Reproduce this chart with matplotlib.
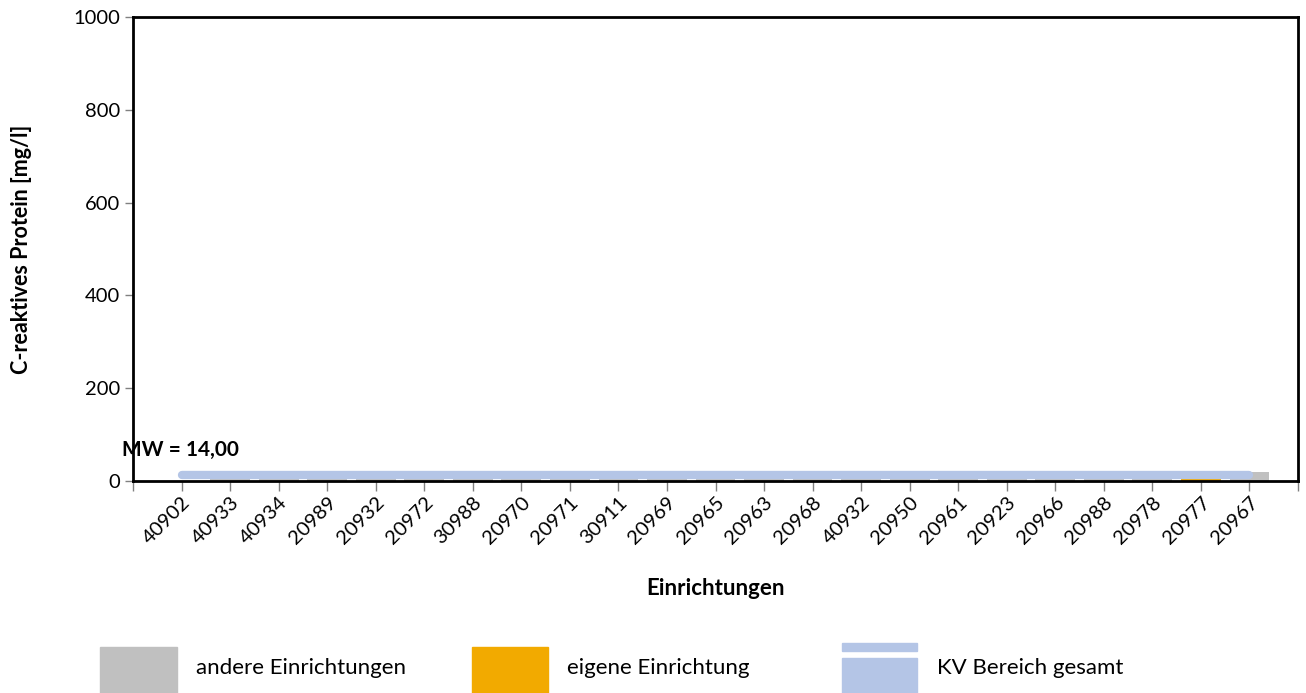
import numpy as np
import matplotlib
matplotlib.use("Agg")
import matplotlib.pyplot as plt
from matplotlib.patches import Rectangle

plt.rcParams['font.family'] = ['Lato', 'DejaVu Sans']

# data
einrichtungen = ["40902", "40933", "40934", "20989", "20932", "20972", "30988", "20970",
                 "20971", "30911", "20969", "20965", "20963", "20968", "40932", "20950",
                 "20961", "20923", "20966", "20988", "20978", "20977", "20967"]
werte = [0, 10, 11, 11, 12, 12, 12, 13, 13, 13, 14, 14, 14, 15, 15, 15, 16, 16,
         17, 17, 18, 19, 20]
eigene = "20977"
mw = 14.00

grau = "#C0C0C0"
orange = "#F2AA00"
blau = "#B4C5E6"

fig = plt.figure(figsize=(13.06, 6.93), dpi=100)
ax = fig.add_axes([133/1306, 1-481/693, (1298-133)/1306, (481-17)/693])

x = np.arange(1, len(einrichtungen)+1)
farben = [orange if e == eigene else grau for e in einrichtungen]
ax.bar(x, werte, width=0.82, color=farben, zorder=2)

# KV Bereich gesamt (Mittelwert)
ax.plot([x[0], x[-1]], [mw, mw], color=blau, lw=6, solid_capstyle="round", zorder=3)
ax.annotate("MW = %s" % f"{mw:.2f}".replace(".", ","), xy=(0, mw),
            xycoords=("axes fraction", "data"), xytext=(-11, 15), textcoords="offset pixels",
            fontsize=15, fontweight="bold", ha="left", va="bottom")

ax.set_xlim(0, len(einrichtungen)+1)
ax.set_ylim(0, 1000)
ax.set_yticks(range(0, 1001, 200))
ax.set_xticks(list(x) + [0, len(einrichtungen)+1])
ax.set_xticklabels(einrichtungen + ["", ""], rotation=45, ha="right", va="top",
                   rotation_mode="anchor", fontsize=14.5)
ax.tick_params(axis="y", labelsize=14.5, length=6, width=1, color="#808080", pad=3)
ax.tick_params(axis="x", length=7, width=1, color="#808080", pad=2)
for s in ax.spines.values():
    s.set_linewidth(2)
    s.set_color("black")

ax.set_ylabel("C-reaktives Protein [mg/l]", fontsize=15.5, fontweight="bold")
ax.set_xlabel("Einrichtungen", fontsize=16, fontweight="bold")
ax.yaxis.set_label_coords(-0.087, 0.5)
ax.xaxis.set_label_coords(0.5, -0.21)

# legend
W, H = 1306, 693
fig.add_artist(Rectangle((100/W, 0), 77/W, 46/H, transform=fig.transFigure, color=grau))
fig.text(196/W, 1-668/H, "andere Einrichtungen", fontsize=16, va="center")
fig.add_artist(Rectangle((472/W, 0), 76/W, 46/H, transform=fig.transFigure, color=orange))
fig.text(567/W, 1-668/H, "eigene Einrichtung", fontsize=16, va="center")
fig.add_artist(Rectangle((842/W, 1-651/H), 75/W, 8/H, transform=fig.transFigure, color=blau))
fig.add_artist(Rectangle((842/W, 0), 75/W, 35/H, transform=fig.transFigure, color=blau))
fig.text(937/W, 1-668/H, "KV Bereich gesamt", fontsize=16, va="center")

fig.savefig("out.png", dpi=100)
